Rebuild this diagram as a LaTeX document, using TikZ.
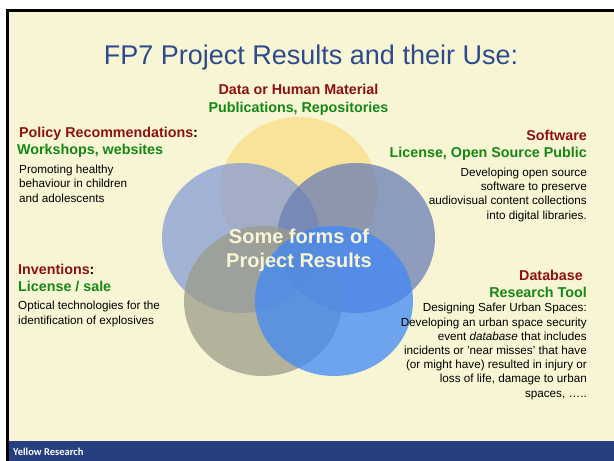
\documentclass[tikz,border=0pt]{standalone}
\usepackage{fontspec}
\setmainfont{Liberation Sans}
\newfontfamily\footfont{Carlito}

\definecolor{slidecream}{RGB}{248,245,213}
\definecolor{slideblue}{RGB}{38,63,128}
\definecolor{titleblue}{RGB}{46,74,140}
\definecolor{fpred}{RGB}{140,18,18}
\definecolor{fpgreen}{RGB}{22,135,22}
\definecolor{ringyellow}{RGB}{250,222,134}
\definecolor{ringleft}{RGB}{135,157,214}
\definecolor{ringright}{RGB}{106,125,180}
\definecolor{ringgrey}{RGB}{156,156,137}
\definecolor{ringblue}{RGB}{65,136,246}

\tikzset{
  ring/.style={fill=#1, fill opacity=0.75, draw=none},
  redhead/.style={font=\bfseries\fontsize{14.3}{17}\selectfont, text=fpred, inner sep=0pt},
  greenhead/.style={font=\bfseries\fontsize{14.3}{17}\selectfont, text=fpgreen, inner sep=0pt},
  bodytext/.style={font=\fontsize{11.7}{14.2}\selectfont, text=black, inner sep=0pt},
}

\begin{document}
\begin{tikzpicture}[x=1pt,y=-1pt]
% slide background and frame
\useasboundingbox (0,0) rectangle (614,461);
\fill[white] (0,0) rectangle (614,461);
\fill[slidecream] (5.5,9) rectangle (614,461);
\fill[slideblue] (8.5,441) rectangle (614,461);
\draw[black, line width=3pt] (7,461) -- (7,10.5) -- (614,10.5);
\node[anchor=west, inner sep=0pt, text=white, font=\footfont\bfseries\fontsize{10.5}{12}\selectfont] (footer) at (13,452) {Yellow Research};

% title
\node[anchor=base, inner sep=0pt, text=titleblue, font=\fontsize{27}{32}\selectfont] (title) at (311,64) {FP7 Project Results and their Use:};
\node[redhead, anchor=base] (datahead) at (298.5,94) {Data or Human Material};
\node[greenhead, anchor=base] (datause) at (298.5,112) {Publications, Repositories};

% five rings
\fill[ring=ringyellow] (298.5,192) ellipse [x radius=79pt, y radius=75pt];
\fill[ring=ringleft] (241,238) ellipse [x radius=79pt, y radius=75pt];
\fill[ring=ringright] (356,238) ellipse [x radius=79pt, y radius=75pt];
\fill[ring=ringgrey] (263,301) ellipse [x radius=79pt, y radius=75pt];
\fill[ring=ringblue] (334,301) ellipse [x radius=79pt, y radius=75pt];
\node[align=center, inner sep=0pt, text=slidecream, font=\bfseries\fontsize{20}{24}\selectfont] (forms) at (299,250) {Some forms of\\Project Results};

% policy recommendations
\node[redhead, anchor=base west] (policyhead) at (19,137) {Policy Recommendations{\color{black}:}};
\node[greenhead, anchor=base west] (policyuse) at (17,154) {Workshops, websites};
\node[bodytext, anchor=base west, align=left] (policytext) at (19,202) {Promoting healthy\\behaviour in children\\and adolescents};

% software
\node[redhead, anchor=base east] (softhead) at (587,140.5) {Software};
\node[greenhead, anchor=base east] (softuse) at (587,157) {License, Open Source Public};
\node[bodytext, anchor=base east, align=right] (softtext) at (587,219) {Developing open source\\software to preserve\\audiovisual content collections\\into digital libraries.};

% inventions
\node[redhead, anchor=base west] (invhead) at (18,274) {Inventions{\color{black}:}};
\node[greenhead, anchor=base west] (invuse) at (18,291) {License / sale};
\node[bodytext, anchor=base west, align=left, font=\fontsize{11.7}{15}\selectfont] (invtext) at (18,324) {Optical technologies for the\\identification of explosives};

% database
\node[redhead, anchor=base east] (dbhead) at (583,280) {Database};
\node[greenhead, anchor=base east] (dbuse) at (587,297) {Research Tool};
\node[bodytext, anchor=base east, align=right] (dbtext) at (587,397) {Designing Safer Urban Spaces:\\Developing an urban space security\\event \textit{database} that includes\\incidents or 'near misses' that have\\(or might have) resulted in injury or\\loss of life, damage to urban\\spaces, \dots..};
\end{tikzpicture}
\end{document}
